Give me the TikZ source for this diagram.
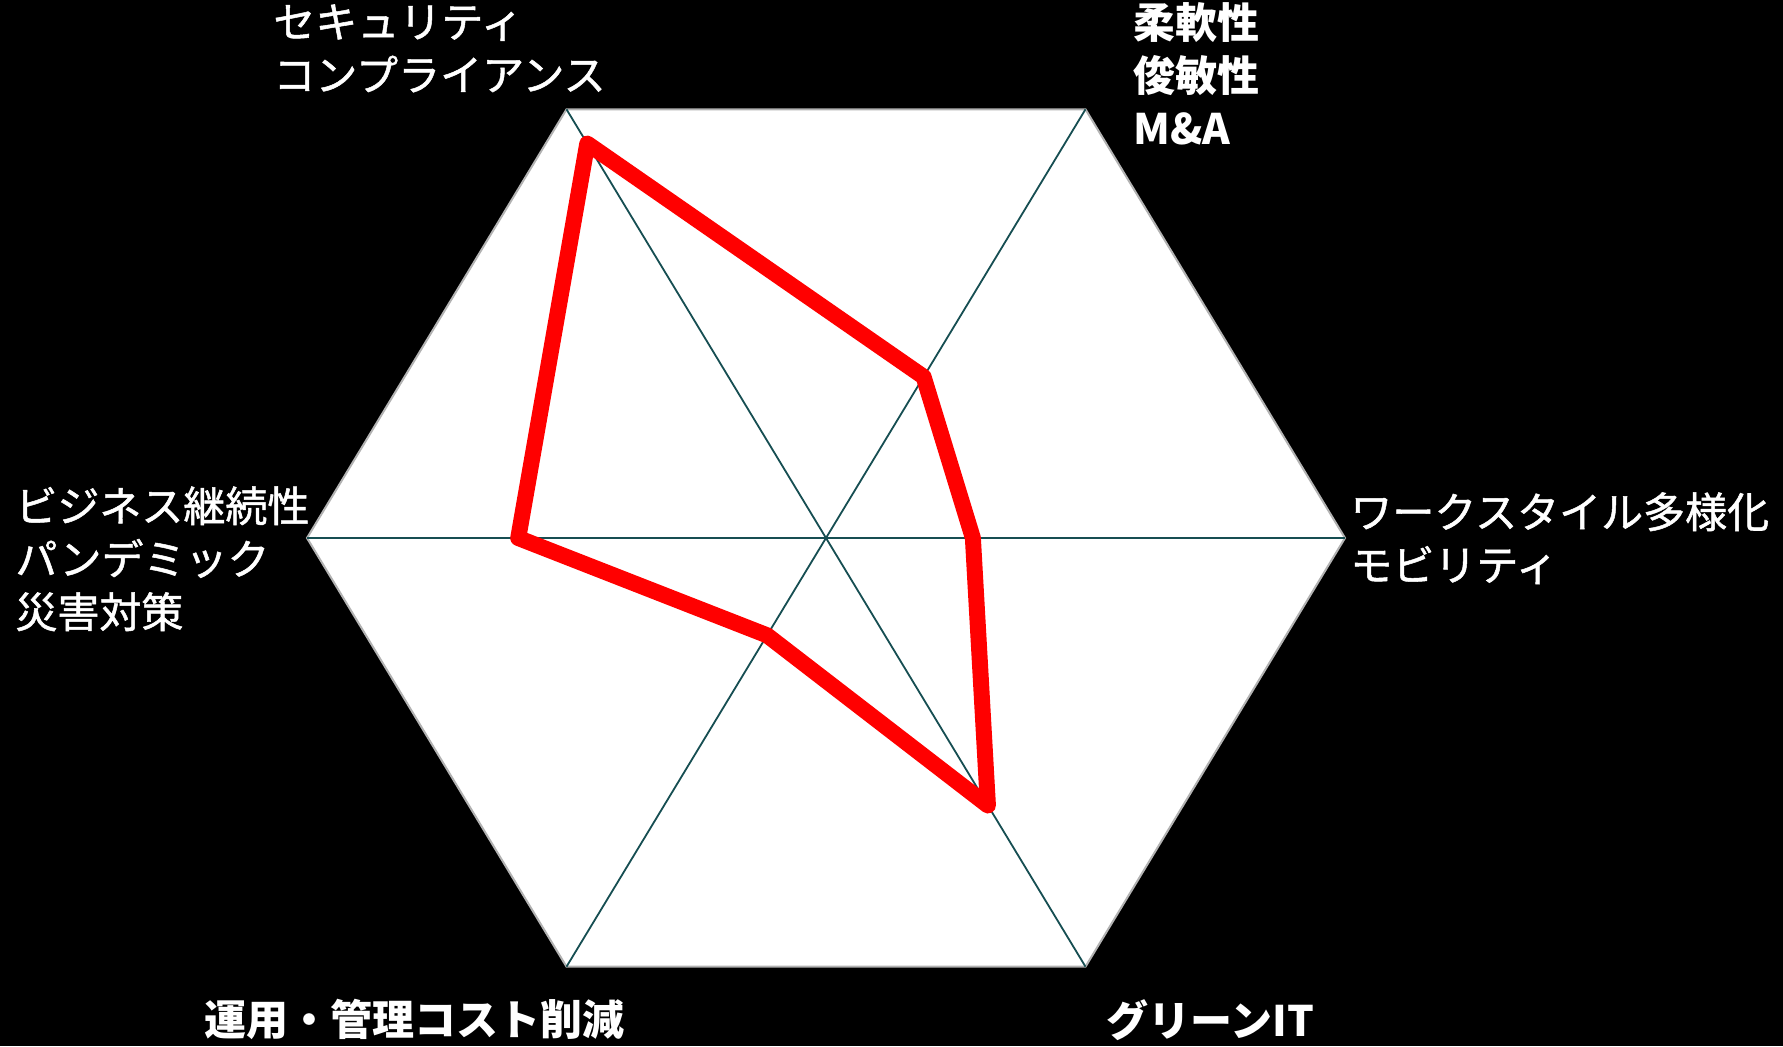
\documentclass[tikz,border=0pt]{standalone}
\usepackage{fontspec}
\setmainfont{Noto Sans CJK JP}
\newfontfamily\jpmid[FakeBold=1.2]{Noto Sans CJK JP}
\usetikzlibrary{calc}
\definecolor{spoketeal}{RGB}{22,78,82}
\definecolor{radarred}{RGB}{255,0,0}
\tikzset{
  axislabel/.style={text=white,anchor=north west,align=left,inner sep=0pt,font=\fontsize{21}{26.5}\selectfont\jpmid},
  boldlabel/.style={axislabel,font=\fontsize{21}{26.5}\selectfont\bfseries},
  spoke/.style={draw=spoketeal,line width=0.9pt},
  radar/.style={draw=radarred,line width=8pt,line join=round}
}
\begin{document}
\begin{tikzpicture}[x=0.5pt,y=0.5pt]
\fill[black] (0,0) rectangle (1783,1046);
\useasboundingbox (0,0) rectangle (1783,1046);
\def\rx{519}
\def\ry{495}
\coordinate (c) at (826,508);
\foreach \i in {0,...,5} {
  \coordinate (v\i) at ($(c)+({\rx*cos(60*\i)},{\ry*sin(60*\i)})$);
}
\filldraw[fill=white,draw=gray!60,line width=1pt] (v0) -- (v1) -- (v2) -- (v3) -- (v4) -- (v5) -- cycle;
\foreach \i/\j in {0/3,1/4,2/5}
  \draw[spoke] (v\i) -- (v\j);
% score on each axis
\foreach \i/\val in {0/0.283,1/0.376,2/0.92,3/0.593,4/0.227,5/0.624} {
  \coordinate (p\i) at ($(c)!\val!(v\i)$);
}
\draw[radar] (p0) -- (p1) -- (p2) -- (p3) -- (p4) -- (p5) -- cycle;
% axis labels
\node[axislabel] (seclabel) at (273,1042) {セキュリティ\\コンプライアンス};
\node[boldlabel] (flexlabel) at (1133,1044) {柔軟性\\俊敏性\\M\&A};
\node[axislabel] (worklabel) at (1350,554) {ワークスタイル多様化\\モビリティ};
\node[axislabel] (bcplabel) at (15,560) {ビジネス継続性\\パンデミック\\災害対策};
\node[boldlabel] (costlabel) at (204,47) {運用・管理コスト削減};
\node[boldlabel] (greenlabel) at (1106,47) {グリーンIT};
\end{tikzpicture}
\end{document}
